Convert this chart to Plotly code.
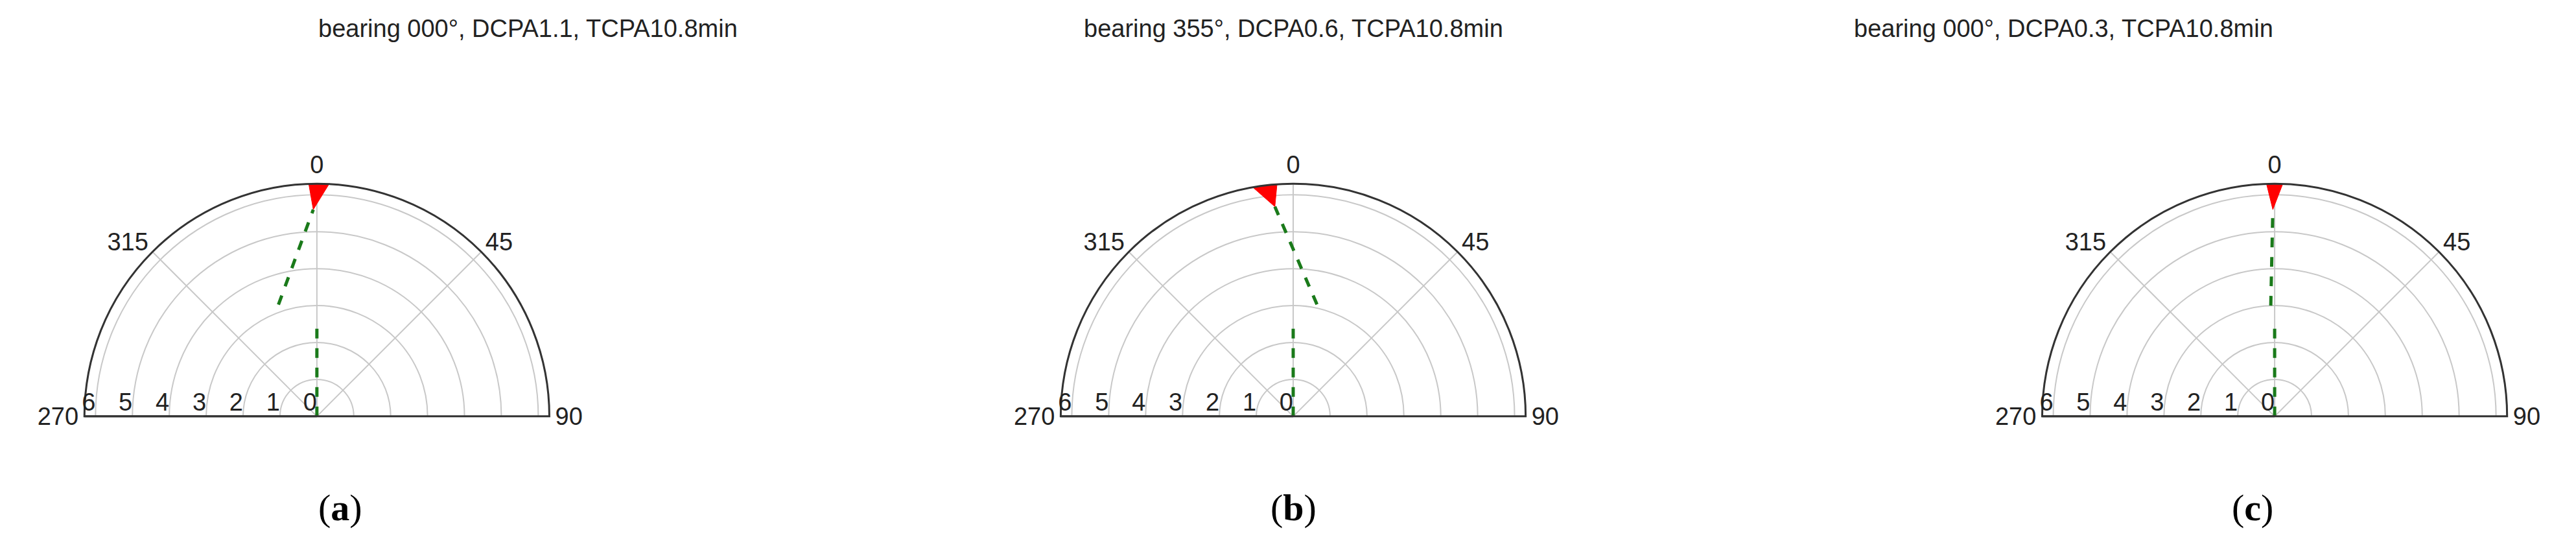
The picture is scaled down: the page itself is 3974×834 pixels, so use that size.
import plotly.graph_objects as go

titles = ["bearing 000°, DCPA1.1, TCPA10.8min",
          "bearing 355°, DCPA0.6, TCPA10.8min",
          "bearing 000°, DCPA0.3, TCPA10.8min"]
panel_labels = ["a", "b", "c"]
# own-ship track (bearing in degrees, range)
own_r = [0, 2.6]
own_bearing = [0, 0]
# target track per panel
target_r = [[3.2, 5.6], [3.1, 5.7], [3.0, 5.6]]
target_bearing = [[341, 359], [12, 355], [358, 359.5]]
# red marker triangle: apex + base
tri_r = [[5.6, 6.3, 6.3, 5.6], [5.7, 6.3, 6.3, 5.7], [5.6, 6.3, 6.3, 5.6]]
tri_bearing = [[359, 358, 3, 359], [355, 350, 356, 355], [359.5, 358, 2, 359.5]]
radial_ticks = [0, 1, 2, 3, 4, 5, 6]
angular_ticks = [0, 45, 90, 270, 315]


def to_screen(bearings):
    # compass bearing -> counterclockwise angle from east
    return [(90 - b) % 360 for b in bearings]


centers = [0.121, 0.5, 0.881]
halfw = 0.092
fig = go.Figure()
font = dict(family="Liberation Sans, Arial", color="#222")
for i in range(3):
    pid = "polar" if i == 0 else f"polar{i+1}"
    sp = pid
    fig.add_trace(go.Scatterpolar(r=own_r, theta=to_screen(own_bearing), mode="lines",
                                  line=dict(color="#1a7a1a", dash="dash", width=5), subplot=sp))
    fig.add_trace(go.Scatterpolar(r=target_r[i], theta=to_screen(target_bearing[i]), mode="lines",
                                  line=dict(color="#1a7a1a", dash="dash", width=5), subplot=sp))
    fig.add_trace(go.Scatterpolar(r=tri_r[i], theta=to_screen(tri_bearing[i]), mode="lines",
                                  fill="toself", fillcolor="red", line=dict(color="red", width=1),
                                  subplot=sp))
    fig.layout[pid] = dict(
        domain=dict(x=[centers[i]-halfw, centers[i]+halfw], y=[0.24, 0.67]),
        sector=[0, 180], bgcolor="white",
        angularaxis=dict(rotation=0, direction="counterclockwise",
                         tickvals=to_screen(angular_ticks),
                         ticktext=[str(v) for v in angular_ticks], showline=True,
                         linecolor="#333", linewidth=3, gridcolor="#c8c8c8", gridwidth=2,
                         ticks="", tickfont=dict(size=38, **font)),
        radialaxis=dict(range=[0, 6.3], angle=180, tickangle=180, tickvals=radial_ticks,
                        showline=True, linecolor="#333", linewidth=3, gridcolor="#c8c8c8",
                        gridwidth=2, ticks="", tickfont=dict(size=38, **font)),
    )
    fig.add_annotation(text=titles[i], x=centers[i], y=0.985, xref="paper", yref="paper",
                       showarrow=False, font=dict(size=38, **font), yanchor="top")
    fig.add_annotation(text=f"(<b>{panel_labels[i]}</b>)", x=centers[i], y=0.03, xref="paper",
                       yref="paper", showarrow=False, yanchor="bottom",
                       font=dict(size=58, family="Liberation Serif, Times New Roman", color="black"))

fig.update_layout(width=3974, height=834, showlegend=False, paper_bgcolor="white",
                  margin=dict(l=0, r=0, t=0, b=0))
fig.write_html("out.html")
